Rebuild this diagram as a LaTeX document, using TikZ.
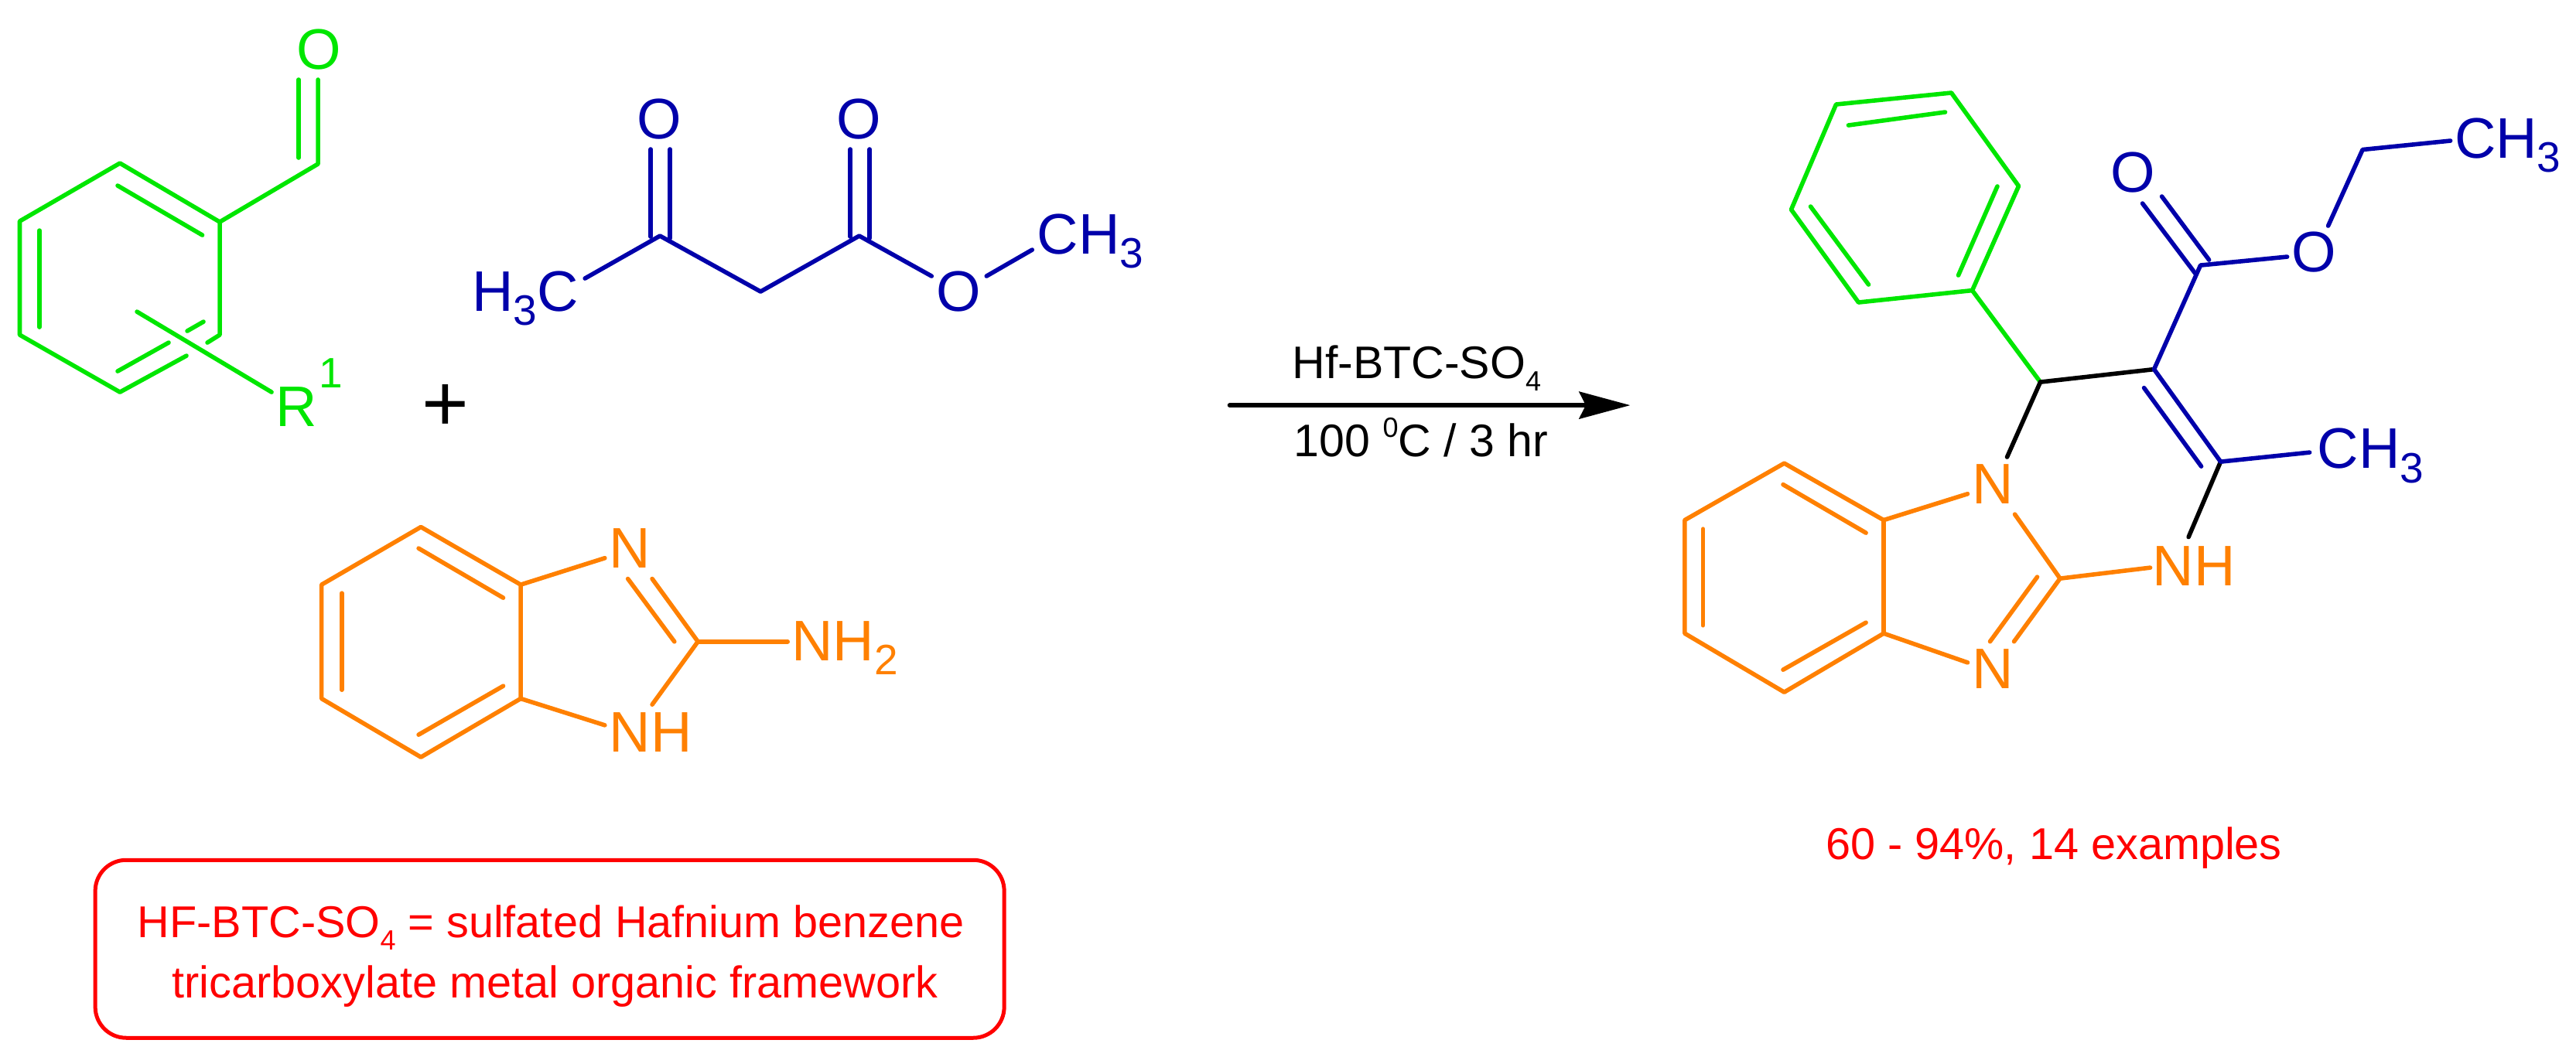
\documentclass[tikz,border=0pt]{standalone}
\usepackage{fontspec}
\setmainfont{Liberation Sans}
\usetikzlibrary{arrows.meta}
\definecolor{aldgreen}{RGB}{0,230,0}
\definecolor{estblue}{RGB}{0,0,170}
\definecolor{azoorange}{RGB}{255,128,0}
\newcommand{\atomsub}[1]{\raisebox{-10.4pt}{\fontsize{31.3}{31.3}\selectfont #1}}
\newcommand{\notesub}[1]{\raisebox{-9.1pt}{\fontsize{20.5}{20.5}\selectfont #1}}
\begin{document}
\begin{tikzpicture}
	\useasboundingbox (0, 0) rectangle (66.6, -27.34);
	\begin{scope}[x=0.02cm, y=-0.02cm]
		\tikzstyle{every node}=[inner sep=0pt]
		\tikzstyle{atom}=[font=\fontsize{42.1}{50}\selectfont]
		\tikzstyle{small}=[font=\fontsize{33.6}{44.4}\selectfont]
		\tikzstyle{redtext}=[text=red, font=\fontsize{32.8}{44.4}\selectfont]
		\tikzstyle{bond}=[line width=0.112cm, line cap=round, line join=round]
		\tikzstyle{greenbond}=[bond, aldgreen]
		\tikzstyle{bluebond}=[bond, estblue]
		\tikzstyle{orangebond}=[bond, azoorange]
		\tikzstyle{blackbond}=[bond, black]

		\node[atom, text=aldgreen] (aldO) at (412, 64) {O};
		\node[atom, text=aldgreen, anchor=base west] (aldR) at (356, 551) {R\hspace{1.5pt}\raisebox{28.5pt}{\fontsize{31.3}{31.3}\selectfont 1}};

		\coordinate (alda) at (155, 211);
		\coordinate (aldb) at (284, 287);
		\coordinate (aldc) at (284, 433);
		\coordinate (aldcg) at (268, 443);
		\coordinate (alddg) at (241, 460);
		\coordinate (aldd) at (155, 507);
		\coordinate (alde) at (25.5, 433);
		\coordinate (aldf) at (25.5, 286);
		\coordinate (aldC) at (411, 212);
		\coordinate (aldOa) at (411, 103);
		\coordinate (aldOb) at (386, 103);
		\coordinate (aldOc) at (386, 204);
		\coordinate (aldia) at (152, 240);
		\coordinate (aldib) at (261.5, 304);
		\coordinate (aldic) at (51, 298);
		\coordinate (aldid) at (51, 423);
		\coordinate (aldie) at (152, 480);
		\coordinate (aldif) at (218, 443);
		\coordinate (aldig) at (242, 428);
		\coordinate (aldih) at (263, 416);
		\coordinate (aldRa) at (177, 403);
		\coordinate (aldRb) at (351, 507);

		\draw [greenbond] (aldcg) -- (aldc) -- (aldb) -- (alda) -- (aldf) -- (alde) -- (aldd) -- (alddg);
		\draw [greenbond] (aldb) -- (aldC) -- (aldOa);
		\draw [greenbond] (aldOb) -- (aldOc);
		\draw [greenbond] (aldia) -- (aldib);
		\draw [greenbond] (aldic) -- (aldid);
		\draw [greenbond] (aldie) -- (aldif);
		\draw [greenbond] (aldig) -- (aldih);
		\draw [greenbond] (aldRa) -- (aldRb);

		\node[font=\fontsize{59.2}{60}\selectfont] (plus) at (575.5, 527) {+};

		\node[atom, text=estblue, anchor=base west] (ketMe) at (610, 402) {H\atomsub{3}C};
		\node[atom, text=estblue] (ketO) at (852, 154) {O};
		\node[atom, text=estblue] (estO) at (1110, 154) {O};
		\node[atom, text=estblue] (estOm) at (1239, 377) {O};
		\node[atom, text=estblue, anchor=base west] (estMe) at (1340, 328) {CH\atomsub{3}};

		\coordinate (ketMeb) at (756, 360);
		\coordinate (ketC) at (853, 305);
		\coordinate (ketCH) at (983, 377);
		\coordinate (estC) at (1110.5, 305);
		\coordinate (estOme) at (1204, 357);
		\coordinate (estOmf) at (1275, 357);
		\coordinate (estMeb) at (1334, 323);
		\coordinate (ketOa) at (841, 193);
		\coordinate (ketOb) at (841, 306);
		\coordinate (ketOc) at (866, 193);
		\coordinate (ketOd) at (866, 308);
		\coordinate (estOa) at (1099, 193);
		\coordinate (estOb) at (1099, 306);
		\coordinate (estOc) at (1124, 193);
		\coordinate (estOd) at (1124, 308);

		\draw [bluebond] (ketMeb) -- (ketC) -- (ketCH) -- (estC) -- (estOme);
		\draw [bluebond] (estOmf) -- (estMeb);
		\draw [bluebond] (ketOa) -- (ketOb);
		\draw [bluebond] (ketOc) -- (ketOd);
		\draw [bluebond] (estOa) -- (estOb);
		\draw [bluebond] (estOc) -- (estOd);

		\node[atom, text=azoorange] (azoN) at (814, 708.5) {N};
		\node[atom, text=azoorange, anchor=base west] (azoNH) at (787.4, 972.5) {NH};
		\node[atom, text=azoorange, anchor=base west] (azoNHt) at (1023, 854) {NH\atomsub{2}};

		\coordinate (azoa) at (544, 681.4);
		\coordinate (azob) at (673, 756);
		\coordinate (azoc) at (673, 903.3);
		\coordinate (azod) at (544, 979);
		\coordinate (azoe) at (415.6, 903.3);
		\coordinate (azof) at (415.6, 756);
		\coordinate (azoia) at (541, 709);
		\coordinate (azoib) at (650.4, 773);
		\coordinate (azoic) at (441.7, 767);
		\coordinate (azoid) at (441.7, 892);
		\coordinate (azoie) at (541, 950);
		\coordinate (azoif) at (650.4, 887);
		\coordinate (azoNa) at (781.7, 721.6);
		\coordinate (azoNb) at (781.7, 937.7);
		\coordinate (azoC) at (902, 829.6);
		\coordinate (azoNc) at (842.9, 748.4);
		\coordinate (azoNd) at (811.5, 748.4);
		\coordinate (azoNe) at (871.6, 829.6);
		\coordinate (azoNf) at (842.9, 911);
		\coordinate (azoNg) at (1018, 829.6);

		\draw [orangebond] (azoa) -- (azob) -- (azoc) -- (azod) -- (azoe) -- (azof) -- cycle;
		\draw [orangebond] (azoia) -- (azoib);
		\draw [orangebond] (azoic) -- (azoid);
		\draw [orangebond] (azoie) -- (azoif);
		\draw [orangebond] (azob) -- (azoNa);
		\draw [orangebond] (azoc) -- (azoNb);
		\draw [orangebond] (azoNc) -- (azoC) -- (azoNf);
		\draw [orangebond] (azoNd) -- (azoNe);
		\draw [orangebond] (azoC) -- (azoNg);

		\coordinate (arra) at (1589.4, 524);
		\coordinate (arrb) at (2107, 524);
		\draw [line width=0.12cm, line cap=round, -{Stealth[length=1.32cm, width=0.7cm, inset=0.17cm]}] (arra) -- (arrb);
		\node[small, anchor=base west] (cat) at (1669.7, 489.3) {Hf-BTC-SO\notesub{4}};
		\node[small, anchor=base west] (cond) at (1672, 590.7) {100 \raisebox{14.2pt}{\fontsize{20.5}{20.5}\selectfont 0}C / 3 hr};

		\node[atom, text=estblue] (prodO) at (2757, 223) {O};
		\node[atom, text=estblue] (prodOe) at (2991, 326) {O};
		\node[atom, text=estblue, anchor=base west] (prodEt) at (3172, 204) {CH\atomsub{3}};
		\node[atom, text=estblue, anchor=base west] (prodMe) at (2995, 605.6) {CH\atomsub{3}};
		\node[atom, text=azoorange] (prodNa) at (2575.5, 625.5) {N};
		\node[atom, text=azoorange] (prodNb) at (2575.5, 864.5) {N};
		\node[atom, text=azoorange, anchor=base west] (prodNH) at (2782, 757.3) {NH};

		\coordinate (pha) at (2522, 120);
		\coordinate (phb) at (2373, 135);
		\coordinate (phc) at (2315, 271);
		\coordinate (phd) at (2402, 391);
		\coordinate (phe) at (2549, 375.5);
		\coordinate (phf) at (2609, 240.6);
		\coordinate (phia) at (2389, 162);
		\coordinate (phib) at (2514, 145);
		\coordinate (phic) at (2581.4, 241);
		\coordinate (phid) at (2531, 356);
		\coordinate (phie) at (2340, 267);
		\coordinate (phif) at (2415, 368);
		\coordinate (pyCH) at (2637, 494);
		\coordinate (pyC) at (2784, 477.5);
		\coordinate (pyNa) at (2594, 591);
		\coordinate (pyCe) at (2844, 343);
		\coordinate (pyOe) at (2956, 332);
		\coordinate (pyOa) at (2769, 263);
		\coordinate (pyOb) at (2838, 354.6);
		\coordinate (pyOc) at (2794, 254);
		\coordinate (pyOd) at (2855, 336);
		\coordinate (pyOf) at (3009, 292);
		\coordinate (pyCt) at (3053.5, 193.5);
		\coordinate (pyEt) at (3167, 182);
		\coordinate (pyCM) at (2870, 597);
		\coordinate (pyia) at (2771, 501.5);
		\coordinate (pyib) at (2845, 603);
		\coordinate (pyMe) at (2985, 585);
		\coordinate (pyNH) at (2828.5, 694.5);
		\coordinate (imC) at (2662.5, 748);
		\coordinate (imNH) at (2779, 734);
		\coordinate (imNa) at (2604, 665);
		\coordinate (imNb) at (2603, 829.5);
		\coordinate (imia) at (2633, 746);
		\coordinate (imib) at (2572, 829.5);
		\coordinate (bza) at (2306, 599);
		\coordinate (bzb) at (2434.5, 672.5);
		\coordinate (bzc) at (2434.5, 819);
		\coordinate (bzd) at (2306, 895);
		\coordinate (bze) at (2177.4, 819);
		\coordinate (bzf) at (2177.4, 672.5);
		\coordinate (bzia) at (2304.5, 626.5);
		\coordinate (bzib) at (2411.6, 689);
		\coordinate (bzic) at (2201, 684);
		\coordinate (bzid) at (2201, 808.6);
		\coordinate (bzie) at (2304.5, 866);
		\coordinate (bzif) at (2411.6, 805);
		\coordinate (bzNa) at (2543, 638.6);
		\coordinate (bzNb) at (2543, 856.7);

		\draw [greenbond] (pha) -- (phb) -- (phc) -- (phd) -- (phe) -- (phf) -- cycle;
		\draw [greenbond] (phia) -- (phib);
		\draw [greenbond] (phic) -- (phid);
		\draw [greenbond] (phie) -- (phif);
		\draw [greenbond] (phe) -- (pyCH);

		\draw [blackbond] (pyCH) -- (pyC);
		\draw [blackbond] (pyCH) -- (pyNa);
		\draw [blackbond] (pyCM) -- (pyNH);

		\draw [bluebond] (pyC) -- (pyCe) -- (pyOe);
		\draw [bluebond] (pyOa) -- (pyOb);
		\draw [bluebond] (pyOc) -- (pyOd);
		\draw [bluebond] (pyOf) -- (pyCt) -- (pyEt);
		\draw [bluebond] (pyC) -- (pyCM) -- (pyMe);
		\draw [bluebond] (pyia) -- (pyib);

		\draw [orangebond] (bza) -- (bzb) -- (bzc) -- (bzd) -- (bze) -- (bzf) -- cycle;
		\draw [orangebond] (bzia) -- (bzib);
		\draw [orangebond] (bzic) -- (bzid);
		\draw [orangebond] (bzie) -- (bzif);
		\draw [orangebond] (bzb) -- (bzNa);
		\draw [orangebond] (bzc) -- (bzNb);
		\draw [orangebond] (imNa) -- (imC) -- (imNb);
		\draw [orangebond] (imia) -- (imib);
		\draw [orangebond] (imC) -- (imNH);

		\node[redtext, anchor=base west] (yield) at (2359.5, 1111.7) {60 - 94\%, 14 examples};

		\node[redtext, draw=red, line width=0.1cm, rounded corners=0.8cm, align=center, minimum width=23.5cm, minimum height=4.6cm] (note) at (710.5, 1227) {\hspace*{2pt}\rule{0pt}{34.2pt}HF-BTC-SO\notesub{4} = sulfated Hafnium benzene\\\hspace*{8pt}tricarboxylate metal organic framework};
	\end{scope}
\end{tikzpicture}
\end{document}
